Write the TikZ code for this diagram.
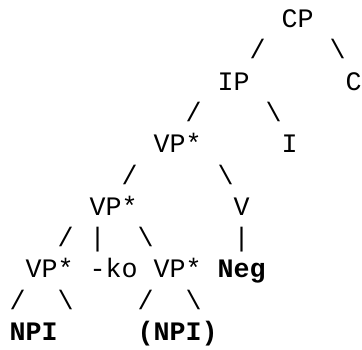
\documentclass[tikz,border=0pt]{standalone}
\usepackage{fontspec}
\setmonofont{Liberation Mono}
\begin{document}
\begin{tikzpicture}[x=1pt,y=-1pt,
  tok/.style={anchor=base west, inner sep=0pt, outer sep=0pt, text=black,
    font=\ttfamily\fontsize{26.67}{32}\selectfont},
  btok/.style={tok, font=\ttfamily\bfseries\fontsize{26.67}{32}\selectfont}]
\useasboundingbox (0,0) rectangle (362,349);
% row 0
\node[tok] (cp) at (281.5,27.5) {CP};
% row 1
\node[tok] (s1a) at (249.5,58.8) {/};
\node[tok] (s1b) at (329.5,58.8) {\textbackslash};
% row 2
\node[tok] (ip) at (217.5,90.1) {IP};
\node[tok] (c) at (345.5,90.1) {C};
% row 3
\node[tok] (s3a) at (185.5,121.4) {/};
\node[tok] (s3b) at (265.5,121.4) {\textbackslash};
% row 4
\node[tok] (vp1) at (153.5,152.7) {VP*};
\node[tok] (i) at (281.5,152.7) {I};
% row 5
\node[tok] (s5a) at (121.5,184) {/};
\node[tok] (s5b) at (217.5,184) {\textbackslash};
% row 6
\node[tok] (vp2) at (89.5,215.3) {VP*};
\node[tok] (v) at (233.5,215.3) {V};
% row 7
\node[tok] (s7a) at (57.5,246.6) {/};
\node[tok] (s7b) at (89.5,246.6) {\textbar};
\node[tok] (s7c) at (137.5,246.6) {\textbackslash};
\node[tok] (s7d) at (233.5,246.6) {\textbar};
% row 8
\node[tok] (vp3) at (25.5,277.9) {VP*};
\node[tok] (ko) at (89.5,277.9) {-ko};
\node[tok] (vp4) at (153.5,277.9) {VP*};
\node[btok] (neg) at (217.5,277.9) {Neg};
% row 9
\node[tok] (s9a) at (9.5,309.2) {/};
\node[tok] (s9b) at (57.5,309.2) {\textbackslash};
\node[tok] (s9c) at (137.5,309.2) {/};
\node[tok] (s9d) at (185.5,309.2) {\textbackslash};
% row 10
\node[btok] (npi1) at (9.5,340.5) {NPI};
\node[btok] (npi2) at (137.5,340.5) {(NPI)};
\end{tikzpicture}
\end{document}
